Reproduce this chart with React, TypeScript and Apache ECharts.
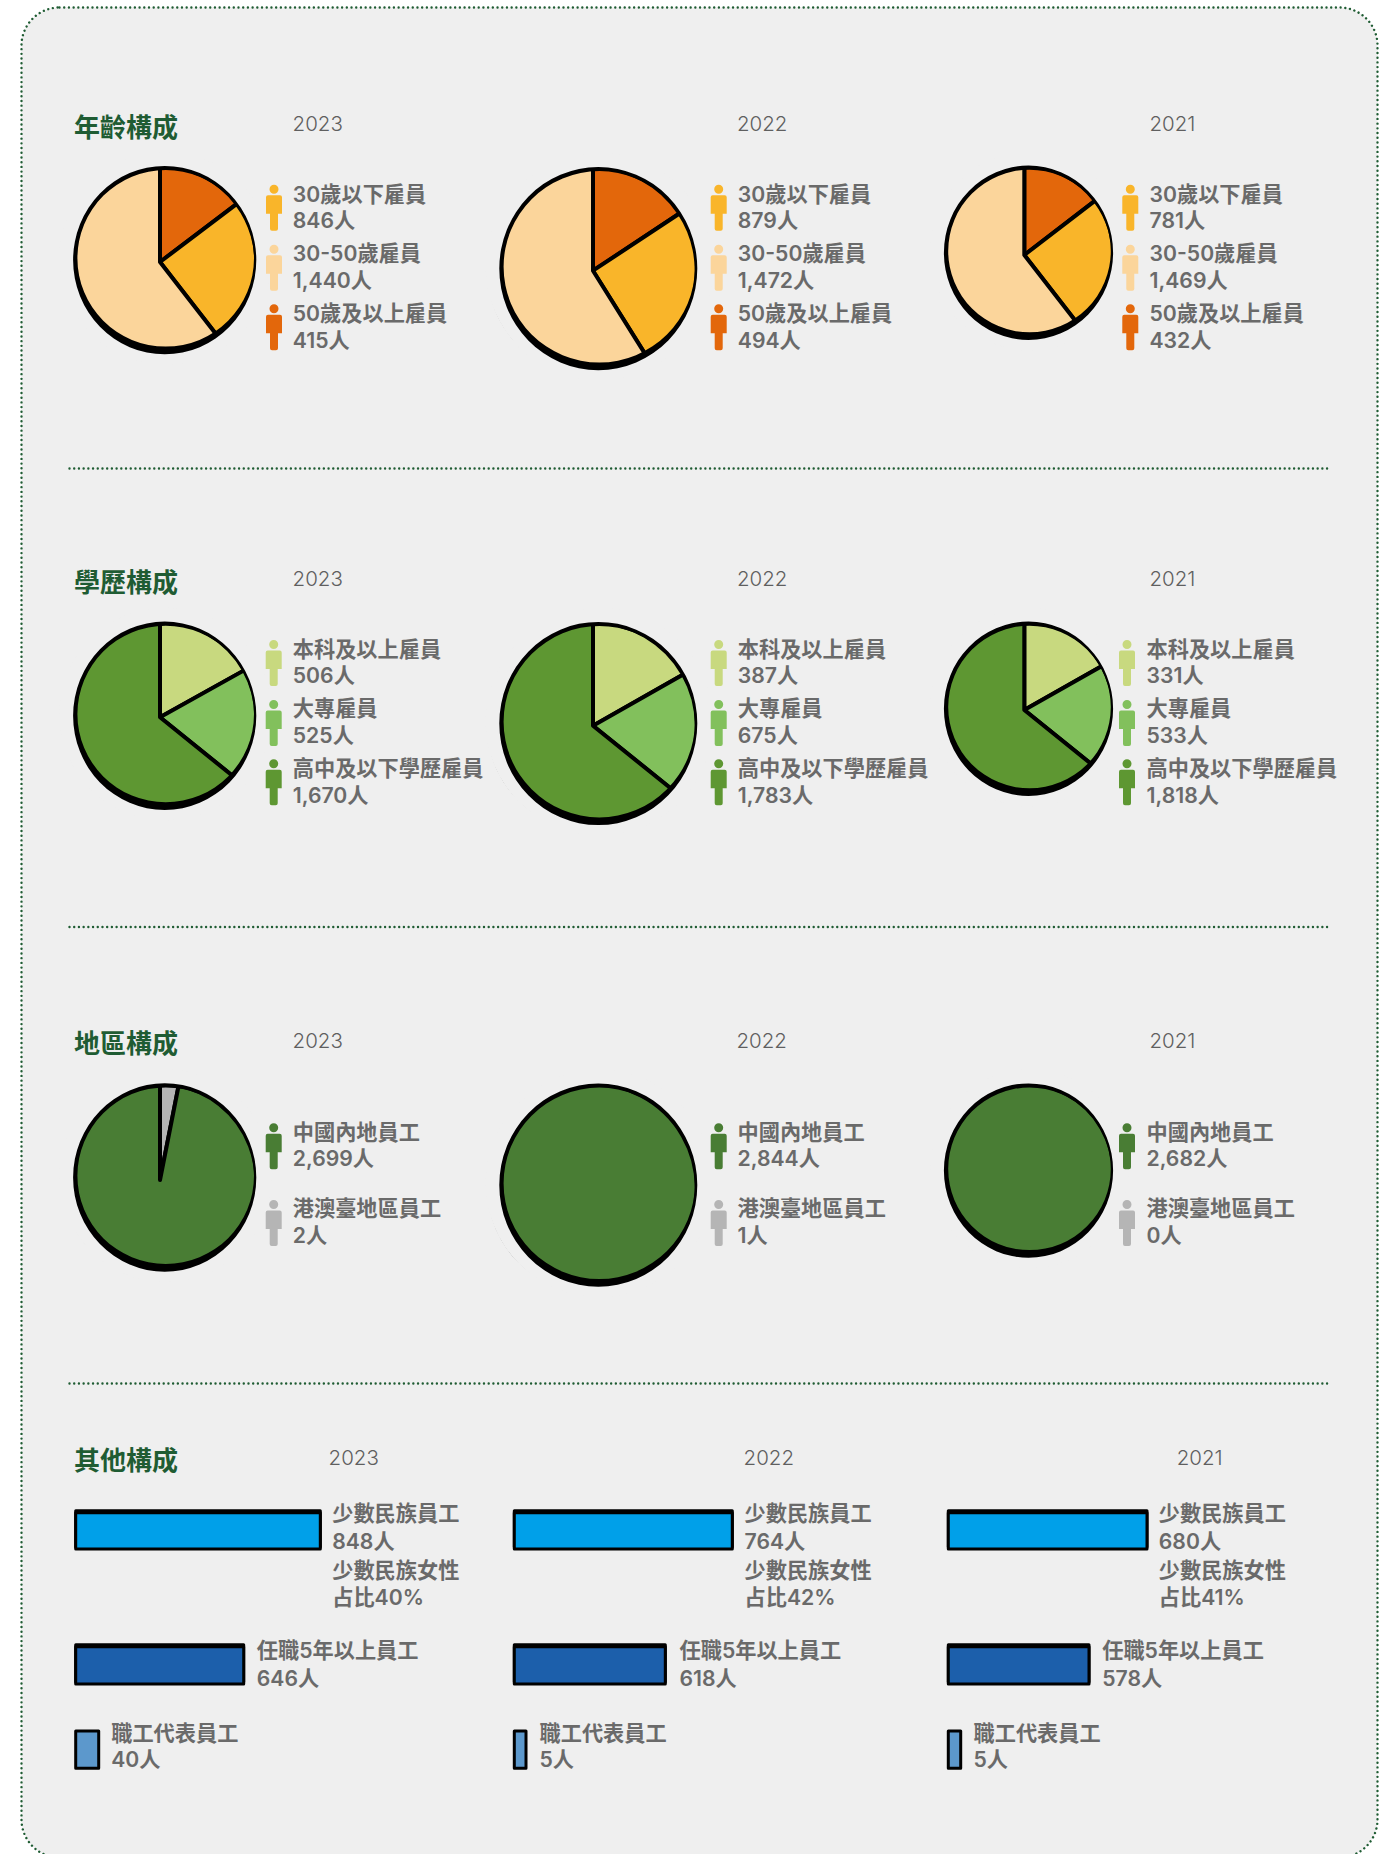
import React, { useEffect, useRef } from "react";
import * as echarts from "echarts";

// ---------- data ----------
const years = ["2023", "2022", "2021"];
const sectionTitles = ["年齡構成", "學歷構成", "地區構成", "其他構成"];

const ageCategories = ["30歲以下雇員", "30-50歲雇員", "50歲及以上雇員"];
const ageCounts = [
  [846, 1440, 415],
  [879, 1472, 494],
  [781, 1469, 432],
];
// slice shares as drawn in the picture, clockwise from the top: 50+, under 30, 30-50
const ageSliceShares = [
  [14.7, 24.8, 60.5],
  [15.7, 25.4, 58.9],
  [14.6, 24.9, 60.5],
];

const eduCategories = ["本科及以上雇員", "大專雇員", "高中及以下學歷雇員"];
const eduCounts = [
  [506, 525, 1670],
  [387, 675, 1783],
  [331, 533, 1818],
];
const eduSliceShares = [
  [16.9, 18.9, 64.2],
  [16.8, 19.0, 64.2],
  [16.8, 19.0, 64.2],
];

const regionCategories = ["中國內地員工", "港澳臺地區員工"];
const regionCounts = [
  [2699, 2],
  [2844, 1],
  [2682, 0],
];
// clockwise from the top: Hong Kong/Macao/Taiwan, mainland
const regionSliceShares = [
  [3.1, 96.9],
  [0, 100],
  [0, 100],
];

const minorityStaff = [848, 764, 680];
const minorityFemaleShare = [40, 42, 41];
const tenureStaff = [646, 618, 578];
const repStaff = [40, 5, 5];

// ---------- colours ----------
const ageColors = ["#e3670b", "#f9b52a", "#fbd59b"]; // as drawn
const ageIconColors = ["#f9b52a", "#fbd59b", "#e3670b"];
const eduColors = ["#c8d97f", "#82c05c", "#5e9732"];
const regionColors = ["#b5b5b5", "#497d34"];
const regionIconColors = ["#497d34", "#b5b5b5"];
const barColors = ["#00a0e9", "#1a5fab", "#5c98cc"];
const GREEN = "#1f5c33";
const TEXT = "#6a6a6a";
const CARD = "#efefef";
const CJK = '"Noto Sans CJK TC"';
const LABEL_FONT = `600 21.2px Inter, ${CJK}, sans-serif`;
const YEAR_FONT = `300 20.5px Inter, sans-serif`;
const TITLE_FONT = `700 26px ${CJK}, sans-serif`;

// ---------- layout ----------
const fillX = [165.7, 599.3, 1029.5];
const fillR = [88.3, 95.7, 81.3];
const fillY = [
  [258.3, 266.8, 251],
  [714, 721.7, 707],
  [1175.7, 1183.3, 1168.8],
];
const hubX = [160, 593, 1024.3];
const hubY = [
  [262, 270.7, 255],
  [717.3, 725.7, 710],
  [1180, 1187.5, 1172.8],
];
const titleY = [125.5, 580.2, 1041, 1458.5];
const yearY = [123.8, 578.5, 1040.5, 1457.7];
const yearX = [
  [292.6, 737, 1149.5],
  [292.6, 737, 1149.5],
  [292.6, 736.5, 1149.5],
  [328.6, 743.6, 1176.7],
];
const iconX = [
  [274, 718.7, 1130.3],
  [273.7, 718.7, 1127],
  [273.7, 718.7, 1127],
];
const textX = [
  [292.8, 737.8, 1149.5],
  [292.8, 737.8, 1146.5],
  [292.8, 737.5, 1146.5],
];
const iconTop = [
  [184.7, 244.7, 304.3],
  [640, 700, 759.3],
  [1123.3, 1200],
];
const lineY = [
  [[193.6, 220], [252.6, 280], [312.6, 340]],
  [[648.6, 675.3], [707.6, 735], [767.6, 795]],
  [[1131.6, 1158.3], [1208.3, 1235]],
];
const dividerY = [468.5, 927, 1383.5];

const barLeft = [74.2, 512.8, 946.8];
const barTop = [1511.2, 1645.2, 1729.5];
const barHeight = [39.3, 40.3, 40.3];
const barWidths = [
  [247.6, 221, 201.7],
  [171, 154, 143.7],
  [26, 14.7, 15.4],
];
const barTextX = [
  [332.2, 744.5, 1158.8],
  [256.8, 679.5, 1102.2],
  [111.2, 539.5, 973.5],
];

const PERSON =
  "M8 0a4.5 4.5 0 1 1 0 9a4.5 4.5 0 1 1 0-9Z" +
  "M2 10.5H14a2 2 0 0 1 2 2V29H12V44a2 2 0 0 1-2 2H6a2 2 0 0 1-2-2V29H0V12.5a2 2 0 0 1 2-2Z";
echarts.graphic.registerShape("person", echarts.graphic.extendPath(PERSON, {}));

// hand-drawn pie outline, and the surround that trims the slices to it
const oval = (cx: number, cy: number, rx: number, ry: number, sweep: number) =>
  `M${cx - rx} ${cy}A${rx} ${ry} 0 1 ${sweep} ${cx + rx} ${cy}A${rx} ${ry} 0 1 ${sweep} ${cx - rx} ${cy}Z`;
fillR.forEach((r, i) => {
  const ox = -1;
  const oy = 1.8;
  const rx = r + 3.3;
  const ry = r + 5.9;
  echarts.graphic.registerShape(
    `pieBand${i}`,
    echarts.graphic.extendPath(oval(ox, oy, rx, ry, 1) + oval(0, 0, r, r, 0), {})
  );
  echarts.graphic.registerShape(
    `pieTrim${i}`,
    echarts.graphic.extendPath(oval(0, 0, r + 18, r + 18, 1) + oval(ox, oy, rx - 1, ry - 1, 0), {})
  );
});

const fmt = (n: number) => n.toLocaleString("en-US") + "人";

function text(s: string, x: number, y: number, font: string, fill: string, z = 10) {
  return {
    type: "text",
    x,
    y,
    z,
    silent: true,
    style: { text: s, font, fill, textAlign: "left", textVerticalAlign: "middle" },
  };
}

function buildOption() {
  const graphic: any[] = [];
  const series: any[] = [];
  const grid: any[] = [];
  const xAxis: any[] = [];
  const yAxis: any[] = [];
  const dots = { stroke: GREEN, lineWidth: 2.4, lineDash: [0.01, 4.7], lineCap: "round" };

  // card
  graphic.push({
    type: "rect",
    z: 0,
    silent: true,
    shape: { x: 21.5, y: 7.5, width: 1356, height: 1850, r: 38 },
    style: { fill: CARD, ...dots },
  });
  dividerY.forEach((y) =>
    graphic.push({
      type: "line",
      z: 1,
      silent: true,
      shape: { x1: 69.5, y1: y, x2: 1331, y2: y },
      style: dots,
    })
  );
  sectionTitles.forEach((t, i) => {
    graphic.push(text(t, 74, titleY[i], TITLE_FONT, GREEN));
    years.forEach((yr, c) => graphic.push(text(yr, yearX[i][c], yearY[i], YEAR_FONT, "#5f5f5f")));
  });

  // pies
  const pieRows = [
    { names: [ageCategories[2], ageCategories[0], ageCategories[1]], shares: ageSliceShares, colors: ageColors },
    { names: eduCategories, shares: eduSliceShares, colors: eduColors },
    { names: [regionCategories[1], regionCategories[0]], shares: regionSliceShares, colors: regionColors },
  ];
  pieRows.forEach((row, r) => {
    row.shares.forEach((shares, c) => {
      const R = fillR[c];
      series.push({
        type: "pie",
        z: 2,
        silent: true,
        center: [hubX[c], hubY[r][c]],
        radius: [0, R + 8],
        startAngle: 90,
        clockwise: true,
        label: { show: false },
        labelLine: { show: false },
        emphasis: { disabled: true },
        itemStyle: { borderColor: "#000", borderWidth: 4, borderJoin: "round" },
        data: shares
          .map((v, i) => ({ name: row.names[i], value: v, itemStyle: { color: row.colors[i] } }))
          .filter((d) => d.value > 0),
      });
      graphic.push({
        type: `pieTrim${c}`,
        z: 5,
        silent: true,
        x: fillX[c],
        y: fillY[r][c],
        style: { fill: CARD },
      });
      graphic.push({
        type: `pieBand${c}`,
        z: 6,
        silent: true,
        x: fillX[c],
        y: fillY[r][c],
        style: { fill: "#000" },
      });
    });
  });

  // pie legends
  const legendRows = [
    { names: ageCategories, counts: ageCounts, colors: ageIconColors },
    { names: eduCategories, counts: eduCounts, colors: eduColors },
    { names: regionCategories, counts: regionCounts, colors: regionIconColors },
  ];
  legendRows.forEach((row, r) => {
    row.counts.forEach((counts, c) => {
      row.names.forEach((name, i) => {
        graphic.push({
          type: "person",
          z: 10,
          silent: true,
          x: iconX[r][c] - 8,
          y: iconTop[r][i],
          style: { fill: row.colors[i] },
        });
        graphic.push(text(name, textX[r][c], lineY[r][i][0], LABEL_FONT, TEXT));
        graphic.push(text(fmt(counts[i]), textX[r][c], lineY[r][i][1], LABEL_FONT, TEXT));
      });
    });
  });

  // bars
  const barRows = [
    { name: "少數民族員工", values: minorityStaff },
    { name: "任職5年以上員工", values: tenureStaff },
    { name: "職工代表員工", values: repStaff },
  ];
  barRows.forEach((row, r) => {
    row.values.forEach((v, c) => {
      const idx = grid.length;
      grid.push({
        left: barLeft[c],
        top: barTop[r],
        width: barWidths[r][c],
        height: barHeight[r],
        containLabel: false,
      });
      xAxis.push({ gridIndex: idx, type: "value", min: 0, max: v, show: false });
      yAxis.push({ gridIndex: idx, type: "category", data: [row.name], show: false });
      series.push({
        type: "bar",
        z: 3,
        silent: true,
        xAxisIndex: idx,
        yAxisIndex: idx,
        barCategoryGap: 0,
        data: [v],
        itemStyle: {
          color: barColors[r],
          borderColor: "#000",
          borderWidth: 3,
          borderJoin: "round",
          shadowColor: "#000",
          shadowBlur: 0,
          shadowOffsetY: r === 2 ? 0 : -2,
        },
      });
    });
  });

  // bar texts
  const barLineY = [
    [1513.4, 1540.7],
    [1650, 1677.7],
    [1732.6, 1759],
  ];
  barRows.forEach((row, r) => {
    row.values.forEach((v, c) => {
      graphic.push(text(row.name, barTextX[r][c], barLineY[r][0], LABEL_FONT, TEXT));
      graphic.push(text(fmt(v), barTextX[r][c], barLineY[r][1], LABEL_FONT, TEXT));
    });
  });
  minorityFemaleShare.forEach((p, c) => {
    graphic.push(text("少數民族女性", barTextX[0][c], 1570, LABEL_FONT, TEXT));
    graphic.push(text(`占比${p}%`, barTextX[0][c], 1597.3, LABEL_FONT, TEXT));
  });

  return {
    animation: false,
    backgroundColor: "#ffffff",
    tooltip: { show: false },
    legend: { show: false },
    graphic: { elements: graphic },
    grid,
    xAxis,
    yAxis,
    series,
  };
}

export default function App() {
  const ref = useRef<HTMLDivElement>(null);
  useEffect(() => {
    const chart = echarts.init(ref.current!, undefined, { renderer: "svg" });
    chart.setOption(buildOption() as any);
    return () => chart.dispose();
  }, []);
  return (
    <div
      ref={ref}
      style={{ position: "absolute", left: 0, top: 0, width: 1383, height: 1854, overflow: "hidden" }}
    />
  );
}
